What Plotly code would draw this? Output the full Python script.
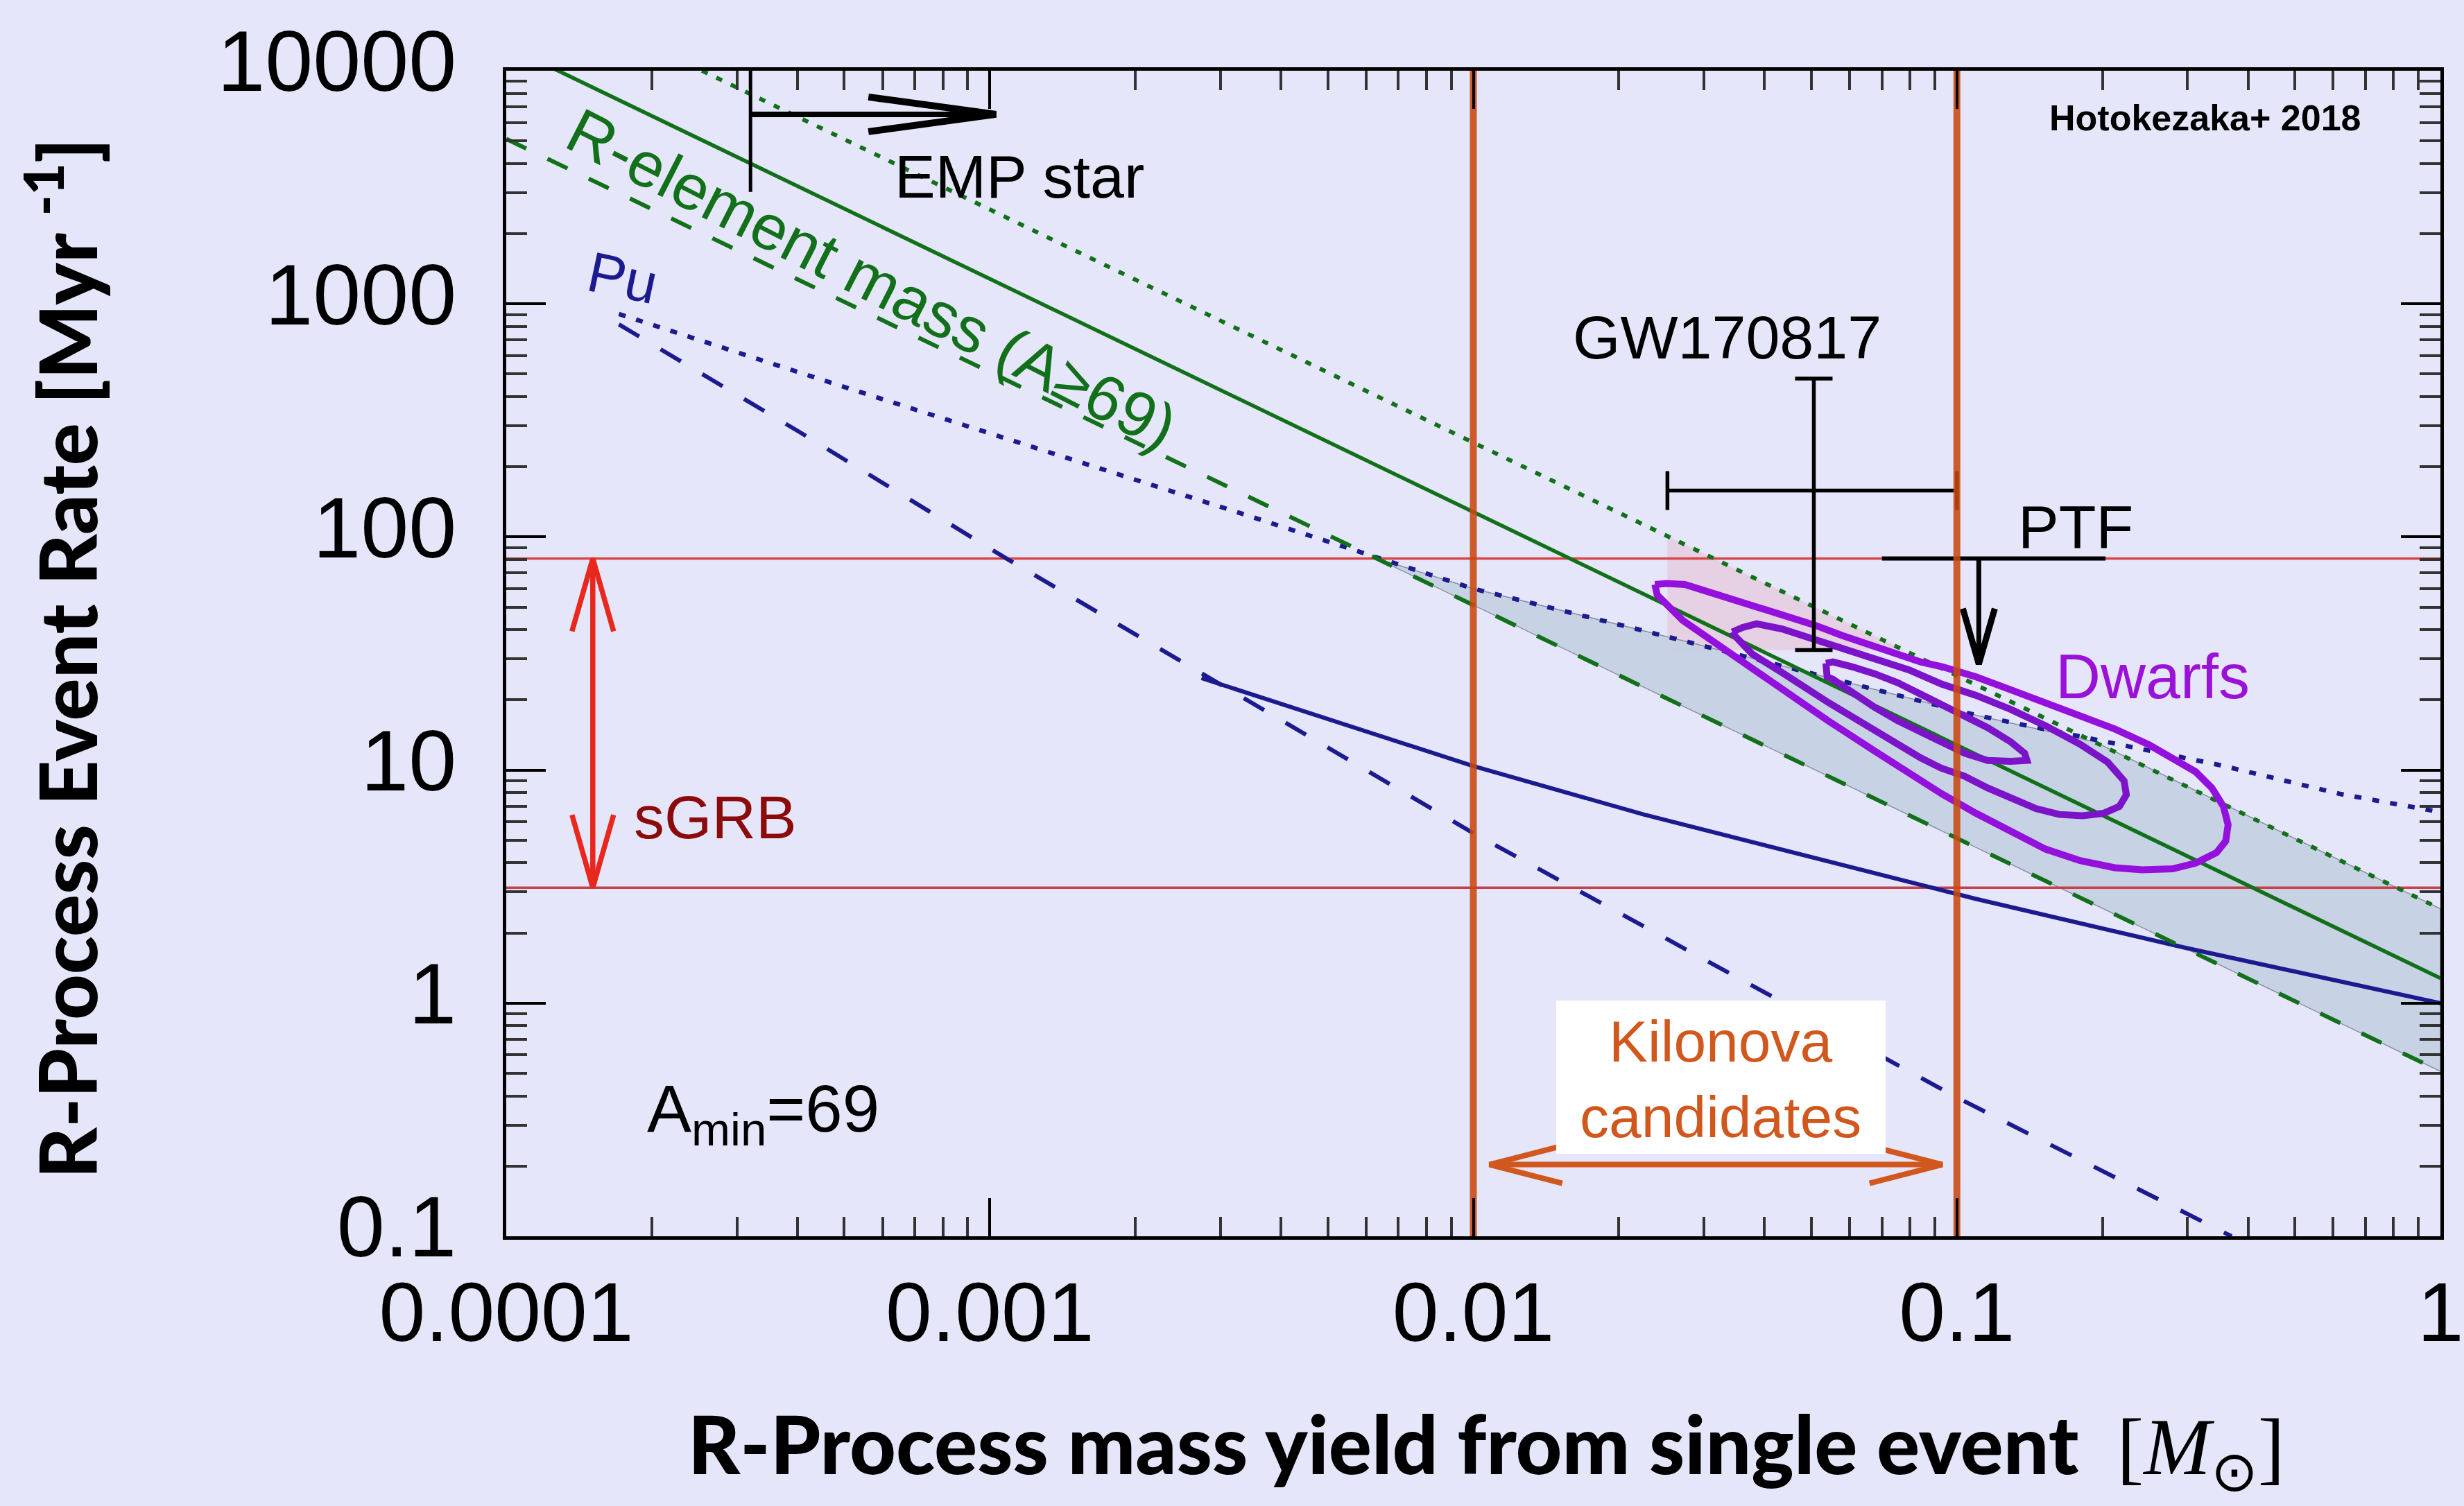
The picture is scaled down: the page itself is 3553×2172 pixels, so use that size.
import numpy as np
import plotly.graph_objects as go

# ---------------- frame geometry (pixels of the 3553x2172 page) ----------------
FIG_W, FIG_H = 3553, 2172
X0, X1, Y0, Y1 = 730, 3519, 102, 1783          # plot area in page pixels
XLOG = (-4, 0)
YLOG = (-1, 4)
PXD = (X1 - X0) / (XLOG[1] - XLOG[0])          # px per decade (x)
PYD = (Y1 - Y0) / (YLOG[1] - YLOG[0])          # px per decade (y)

# ---------------- data ----------------
xtick_vals = [1e-4, 1e-3, 1e-2, 1e-1, 1]
xtick_text = ["0.0001", "0.001", "0.01", "0.1", "1"]
ytick_vals = [0.1, 1, 10, 100, 1000, 10000]
ytick_text = ["0.1", "1", "10", "100", "1000", "10000"]
xminor = [k * 10.0 ** e for e in range(-4, 0) for k in range(2, 10)]
yminor = [k * 10.0 ** e for e in range(-1, 4) for k in range(2, 10)]

# R-element mass (A>=69): solid / upper dotted / lower dashed
relem_solid_x = [1e-4, 1.0]
relem_solid_y = [12800, 1.28]
relem_upper_x = [2.54e-4, 1.0]
relem_upper_y = [10000, 2.54]
relem_lower_x = [1e-4, 1.0]
relem_lower_y = [5100, 0.51]

# Pu curves
pu_dotted_x = [1.71e-4, 5.0e-4, 3.2e-3, 0.01, 0.0225, 0.1096, 0.35, 0.62, 1.0]
pu_dotted_y = [904, 440, 129, 60, 39.6, 17.2, 10.5, 7.9, 6.6]
pu_dashed_x = [1.71e-4, 4.04e-4, 1.08e-3, 0.01, 0.1, 0.37]
pu_dashed_y = [816, 282, 81, 5.36, 0.394, 0.1]
pu_solid_x = [2.74e-3, 6.62e-3, 0.01, 0.0225, 0.1096, 0.296, 1.0]
pu_solid_y = [24.8, 13.7, 10.4, 6.45, 2.80, 1.73, 1.0]

# allowed band (shaded)
band_x = [6.3e-3, 0.01, 0.0225, 0.1096, 0.193, 1.0, 1.0, 6.3e-3]
band_y = [81, 60, 39.6, 17.2, 13.2, 2.54, 0.51, 81]

# GW170817 pink region
pink_x = [0.0252, 0.0252, 0.0777, 0.0252]
pink_y = [101, 32.7, 32.7, 101]

# sGRB rate band
sgrb_high, sgrb_low = 80.8, 3.13
sgrb_arrow_x = 1.51e-4

# GW170817 point
gw_x, gw_xlo, gw_xhi = 0.0506, 0.0252, 0.1
gw_y, gw_ylo, gw_yhi = 158, 32.7, 478

# PTF upper limit
ptf_bar_x = [0.070, 0.203]
ptf_y = 80.8
ptf_arrow_x = 0.111
ptf_arrow_tip = 28.5

# EMP star
emp_x = 3.2e-4
emp_vline_y = [10000, 3020]
emp_arrow_y = 6500
emp_arrow_tip_x = 1.03e-3

# kilonova candidates
kn_lines_x = [0.01, 0.1]
kn_arrow_x = [0.0108, 0.0933]
kn_arrow_y = 0.203

# Dwarfs contours
dw_outer_x = [0.02374, 0.02508, 0.02739, 0.03057, 0.03412, 0.03897, 0.04445, 0.05073, 0.05788,
              0.06607, 0.07541, 0.08418, 0.09293, 0.1096, 0.1293, 0.1525, 0.1798, 0.2121, 0.2502,
              0.2793, 0.3118, 0.3368, 0.3558, 0.3638, 0.3598, 0.3442, 0.3118, 0.2793, 0.2421,
              0.2121, 0.1798, 0.1525, 0.1293, 0.1096, 0.09293, 0.08418, 0.06755, 0.05420, 0.04349,
              0.03771, 0.03230, 0.02709, 0.02400, 0.02374]
dw_outer_y = [62.5, 63.2, 62.5, 58.3, 54.5, 49.7, 45.9, 41.9, 37.8, 34.5, 31.5, 29.1, 27.8, 25.1,
              22.1, 19.5, 17.2, 15.0, 12.8, 11.3, 9.83, 8.38, 6.98, 5.82, 4.96, 4.42, 3.99, 3.77,
              3.73, 3.81, 4.09, 4.58, 5.43, 6.52, 7.92, 8.98, 12.08, 16.25, 22.4, 27.5, 34.5, 43.9,
              56.4, 62.5]
dw_mid_x = [0.03431, 0.03606, 0.03854, 0.04349, 0.04962, 0.05725, 0.06755, 0.07964, 0.09293,
            0.1096, 0.1293, 0.1525, 0.1798, 0.2052, 0.2217, 0.2241, 0.2168, 0.2008, 0.1818,
            0.1628, 0.1459, 0.1307, 0.1158, 0.1038, 0.09293, 0.08418, 0.06755, 0.05420, 0.04349,
            0.03771, 0.03451, 0.03431]
dw_mid_y = [39.1, 40.9, 42.4, 40.3, 36.9, 33.7, 30.1, 26.9, 23.4, 20.9, 18.2, 15.5, 12.9, 10.8,
            8.98, 7.83, 6.98, 6.52, 6.37, 6.45, 6.83, 7.48, 8.38, 9.40, 10.18, 11.28, 14.8, 19.5,
            26.2, 31.5, 38.2, 39.1]
dw_inner_x = [0.05360, 0.05540, 0.06049, 0.06755, 0.07541, 0.08418, 0.09293, 0.1038, 0.1158,
              0.1293, 0.1381, 0.1396, 0.1293, 0.1158, 0.1038, 0.09293, 0.08418, 0.07541, 0.06755,
              0.06049, 0.05540, 0.05391, 0.05360]
dw_inner_y = [28.7, 29.1, 27.8, 25.9, 23.7, 21.1, 19.1, 17.0, 15.2, 13.2, 11.8, 11.0, 10.9, 11.0,
              11.8, 13.2, 14.5, 16.3, 18.6, 21.9, 24.5, 25.1, 28.7]

# ---------------- styles ----------------
BG = "#e6e6fa"
GREEN = "#13701a"
NAVY = "#1b1b8f"
RED_LINE = "#d94545"
RED_ARROW = "#e8281e"
ORANGE = "rgba(200,72,16,0.88)"
KN_ORANGE = "#d0581e"
PURPLE_OUT = "#9410dc"
PURPLE_IN = "#7b14c9"
SANS = "Liberation Sans, Arial, Helvetica, sans-serif"
TITLE_FONT = "Lato, Open Sans, sans-serif"

fig = go.Figure()


def line(x, y, color, width, dash=None, fill=None, fillcolor=None, opacity=1.0):
    fig.add_trace(go.Scatter(x=x, y=y, mode="lines",
                             line=dict(color=color, width=width, dash=dash),
                             fill=fill, fillcolor=fillcolor, opacity=opacity,
                             hoverinfo="skip", showlegend=False))


def vhead(xt, yt, ux, uy, L, Wd):
    """Open V arrowhead at data point (xt,yt), pointing along pixel direction (ux,uy) (uy up)."""
    lx, ly = np.log10(xt), np.log10(yt)
    xs, ys = [], []
    for s in (1, -1):
        px = -L * ux - s * Wd * uy
        py = -L * uy + s * Wd * ux
        xs.append(10 ** (lx + px / PXD))
        ys.append(10 ** (ly + py / PYD))
    return [xs[0], xt, xs[1]], [ys[0], yt, ys[1]]


# shaded regions
line(pink_x, pink_y, "rgba(0,0,0,0)", 0, fill="toself", fillcolor="#e6d0e4")
line(band_x, band_y, "rgba(110,110,130,0.7)", 1.5, fill="toself", fillcolor="rgba(196,209,226,0.93)")

# sGRB horizontal lines
line([1e-4, 1], [sgrb_high, sgrb_high], RED_LINE, 3.5)
line([1e-4, 1], [sgrb_low, sgrb_low], "#c8404a", 3.5)

# Pu curves
line(pu_dotted_x, pu_dotted_y, NAVY, 6.5, dash="10px,16px")
line(pu_dashed_x, pu_dashed_y, NAVY, 6, dash="34px,36px")
line(pu_solid_x, pu_solid_y, NAVY, 6)

# R-element curves
line(relem_upper_x, relem_upper_y, GREEN, 6, dash="9px,14px")
line(relem_lower_x, relem_lower_y, GREEN, 6, dash="32px,34px")
line(relem_solid_x, relem_solid_y, GREEN, 5.5)

# Dwarf contours
line(dw_outer_x, dw_outer_y, PURPLE_OUT, 10)
line(dw_mid_x, dw_mid_y, PURPLE_IN, 10)
line(dw_inner_x, dw_inner_y, PURPLE_IN, 10)

# GW170817 error cross
fig.add_trace(go.Scatter(
    x=[gw_x], y=[gw_y], mode="markers", marker=dict(size=1, color="black", opacity=0),
    error_x=dict(type="data", symmetric=False, array=[gw_xhi - gw_x], arrayminus=[gw_x - gw_xlo],
                 color="black", thickness=5.5, width=28),
    error_y=dict(type="data", symmetric=False, array=[gw_yhi - gw_y], arrayminus=[gw_y - gw_ylo],
                 color="black", thickness=5.5, width=27),
    hoverinfo="skip", showlegend=False))

# PTF
line(ptf_bar_x, [ptf_y, ptf_y], "black", 6)
line([ptf_arrow_x, ptf_arrow_x], [ptf_y, ptf_arrow_tip], "black", 7)
hx, hy = vhead(ptf_arrow_x, ptf_arrow_tip, 0, -1, 80, 23)
line(hx, hy, "black", 9)

# EMP star
line([emp_x, emp_x], emp_vline_y, "black", 5)
line([emp_x, emp_arrow_tip_x], [emp_arrow_y, emp_arrow_y], "black", 8)
hx, hy = vhead(emp_arrow_tip_x, emp_arrow_y, 1, 0, 184, 25)
line(hx, hy, "black", 10)

# sGRB double arrow
line([sgrb_arrow_x, sgrb_arrow_x], [sgrb_high, sgrb_low], RED_ARROW, 7.5)
hx, hy = vhead(sgrb_arrow_x, sgrb_high, 0, 1, 105, 30)
line(hx, hy, RED_ARROW, 7.5)
hx, hy = vhead(sgrb_arrow_x, sgrb_low, 0, -1, 105, 30)
line(hx, hy, RED_ARROW, 7.5)

# Kilonova double arrow
line(kn_arrow_x, [kn_arrow_y, kn_arrow_y], KN_ORANGE, 8)
hx, hy = vhead(kn_arrow_x[0], kn_arrow_y, -1, 0, 105, 27)
line(hx, hy, KN_ORANGE, 8)
hx, hy = vhead(kn_arrow_x[1], kn_arrow_y, 1, 0, 105, 27)
line(hx, hy, KN_ORANGE, 8)

# Kilonova vertical lines
for xv in kn_lines_x:
    line([xv, xv], [0.1, 10000], ORANGE, 10)


# ---------------- annotations ----------------
def P(X, Y):
    return (X - X0) / (X1 - X0), (Y1 - Y) / (Y1 - Y0)


def ann(text, X, Y, size, color="black", family=SANS, angle=0, xanchor="center", yanchor="middle",
        weight=None):
    xp, yp = P(X, Y)
    font = dict(family=family, size=size, color=color)
    if weight is not None:
        font["weight"] = weight
    return dict(text=text, x=xp, y=yp, xref="paper", yref="paper", showarrow=False,
                xanchor=xanchor, yanchor=yanchor, textangle=angle, font=font)


annotations = [
    ann("EMP star", 1470, 254, 88),
    ann("R-element mass (A≥69)", 1257, 402, 92, color=GREEN, angle=27),
    ann("Pu", 898, 400, 82, color=NAVY, angle=12),
    ann("GW170817", 2490, 487, 88),
    ann("PTF", 2993, 759, 88),
    ann("Dwarfs", 3104, 976, 90, color="#9a12d8"),
    ann("sGRB", 1031, 1178, 88, color="#8b0b0b"),
    ann("A<sub>min</sub>=69", 1100, 1605, 96),
    ann("<b>Hotokezaka+ 2018</b>", 3180, 170, 52),
    ann("Kilonova<br>candidates", 2481, 1556, 84, color=KN_ORANGE),
    ann("R-Process Event Rate [Myr <sup>-1</sup>]", 88, 950, 114, family=TITLE_FONT,
        angle=-90, weight=900),
    ann("R-Process mass yield from single event  "
        "<span style=\"font-family:'Liberation Serif';font-weight:normal\">[<i>M</i><sub>⊙</sub>]</span>",
        2143, 2090, 116, family=TITLE_FONT, weight=900),
]

kx0, ky0 = P(2244, 1664)
kx1, ky1 = P(2719, 1443)
shapes = [dict(type="rect", xref="paper", yref="paper", x0=kx0, x1=kx1, y0=ky0, y1=ky1,
               fillcolor="white", line=dict(width=0), layer="above")]

axis_common = dict(
    type="log", tickmode="array", ticks="inside", tickwidth=4, tickcolor="black",
    showline=True, linewidth=5, linecolor="black", mirror="ticks", showgrid=False, zeroline=False,
    automargin=False,
)

fig.update_layout(
    width=FIG_W, height=FIG_H,
    margin=dict(l=X0, r=FIG_W - X1, t=Y0, b=FIG_H - Y1, pad=0),
    paper_bgcolor=BG, plot_bgcolor=BG,
    template="none",
    showlegend=False,
    xaxis=dict(range=list(XLOG), tickvals=xtick_vals, ticktext=xtick_text, ticklen=55,
               minor=dict(tickmode="array", tickvals=xminor, ticks="inside", ticklen=28,
                          tickwidth=4, tickcolor="#333333", showgrid=False),
               tickfont=dict(family=SANS, size=120, color="black"),
               ticklabelstandoff=2, **axis_common),
    yaxis=dict(range=list(YLOG), tickvals=ytick_vals, ticktext=ytick_text, ticklen=57,
               minor=dict(tickmode="array", tickvals=yminor, ticks="inside", ticklen=30,
                          tickwidth=4, tickcolor="#333333", showgrid=False),
               tickfont=dict(family=SANS, size=124, color="black"),
               ticklabelstandoff=42, ticklabelshift=-14, **axis_common),
    annotations=annotations,
    shapes=shapes,
)

fig.write_html("out.html")
